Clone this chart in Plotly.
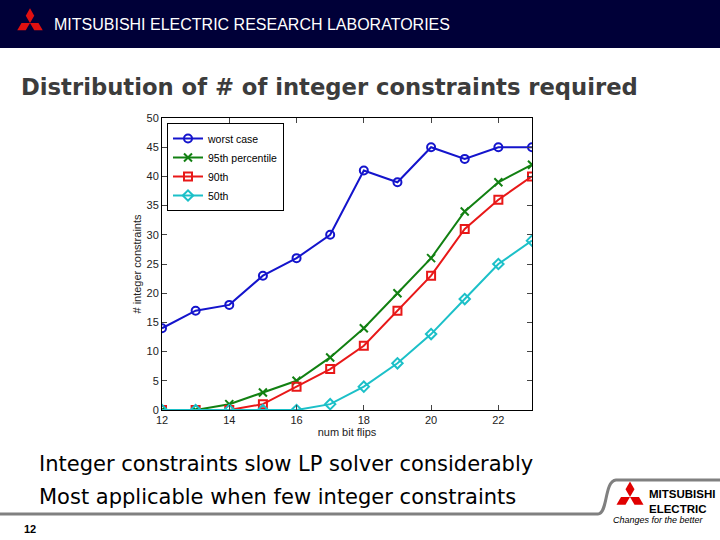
import plotly.graph_objects as go
import math

# ---- data ----
bit_flips = [12, 13, 14, 15, 16, 17, 18, 19, 20, 21, 22, 23]
worst_case = [14, 17, 18, 23, 26, 30, 41, 39, 45, 43, 45, 45]
pct95 = [0, 0, 1, 3, 5, 9, 14, 20, 26, 34, 39, 42]
pct90 = [0, 0, 0, 1, 4, 7, 11, 17, 23, 31, 36, 40]
pct50 = [0, 0, 0, 0, 0, 1, 4, 8, 13, 19, 25, 29]
x_ticks = [12, 14, 16, 18, 20, 22]
y_ticks = [0, 5, 10, 15, 20, 25, 30, 35, 40, 45, 50]

W, H = 720, 540
ML, MT = 162, 118
MR = W - 532
MB = H - 410
PW, PH = W - ML - MR, H - MT - MB


def px(x):
    return (x - ML) / PW


def py(y):
    return 1 - (y - MT) / PH


fig = go.Figure()
series = [
    ("worst case", worst_case, "#1414cc", "circle-open"),
    ("95th percentile", pct95, "#128012", "x-thin-open"),
    ("90th", pct90, "#e81818", "square-open"),
    ("50th", pct50, "#1cc0c8", "diamond-open"),
]
for name, ys, col, sym in series:
    fig.add_trace(go.Scatter(
        x=bit_flips, y=ys, name=name, mode="lines+markers",
        line=dict(color=col, width=2),
        marker=dict(symbol=sym, size=8, color=col, line=dict(color=col, width=2)),
    ))

axis_font = dict(family="Liberation Sans, Arial", size=11, color="#222")
fig.update_xaxes(range=[12, 23], tickvals=x_ticks, ticks="inside", ticklen=5,
                 showline=True, linecolor="#000", linewidth=1, mirror="ticks",
                 showgrid=False, zeroline=False, tickfont=axis_font,
                 title=dict(text="num bit flips", font=axis_font, standoff=0))
fig.update_yaxes(range=[0, 50], tickvals=y_ticks, ticks="inside", ticklen=5,
                 showline=True, linecolor="#000", linewidth=1, mirror="ticks",
                 showgrid=False, zeroline=False, tickfont=axis_font,
                 title=dict(text="# integer constraints", font=axis_font, standoff=2))

shapes = []
# header band
shapes.append(dict(type="rect", xref="paper", yref="paper", x0=px(0), x1=px(720),
                   y0=py(0), y1=py(48), fillcolor="#000038", line=dict(width=0), layer="below"))


def logo(cx, cy, s, color):
    # three rhombi meeting at centre (cx, cy) in screen pixel coords; s = side
    out = []
    for ang in (90, 210, 330):
        a = math.radians(ang)
        ux, uy = math.cos(a), -math.sin(a)
        vx, vy = -uy, ux
        L = s * math.sqrt(3)
        pts = [(cx, cy),
               (cx + ux * L / 2 + vx * s / 2, cy + uy * L / 2 + vy * s / 2),
               (cx + ux * L, cy + uy * L),
               (cx + ux * L / 2 - vx * s / 2, cy + uy * L / 2 - vy * s / 2)]
        path = "M " + " L ".join(f"{px(x):.5f},{py(y):.5f}" for x, y in pts) + " Z"
        out.append(dict(type="path", xref="paper", yref="paper", path=path,
                        fillcolor=color, line=dict(width=0)))
    return out


shapes += logo(30, 23, 8.5, "#e01010")
shapes += logo(630, 497, 9, "#e00000")

# bottom gray rule with curve
pts_path = (f"M {px(0):.5f},{py(514):.5f} L {px(598):.5f},{py(514):.5f} "
            f"C {px(608):.5f},{py(514):.5f} {px(604):.5f},{py(481):.5f} {px(616):.5f},{py(480):.5f} "
            f"L {px(720):.5f},{py(480):.5f}")
shapes.append(dict(type="path", xref="paper", yref="paper", path=pts_path,
                   line=dict(color="#808080", width=3)))

ann = []
ann.append(dict(text="MITSUBISHI ELECTRIC RESEARCH LABORATORIES", x=px(52), y=py(25),
                xref="paper", yref="paper", xanchor="left", yanchor="middle", showarrow=False,
                font=dict(family="Liberation Sans, Arial", size=16, color="#ffffff")))
ann.append(dict(text="<b>Distribution of # of integer constraints required</b>", x=px(19), y=py(87),
                xref="paper", yref="paper", xanchor="left", yanchor="middle", showarrow=False,
                font=dict(family="DejaVu Sans", size=22.7, color="#3c3c3c")))
ann.append(dict(text="Integer constraints slow LP solver considerably", x=px(37), y=py(464),
                xref="paper", yref="paper", xanchor="left", yanchor="middle", showarrow=False,
                font=dict(family="DejaVu Sans", size=21, color="#000")))
ann.append(dict(text="Most applicable when few integer constraints", x=px(37), y=py(497),
                xref="paper", yref="paper", xanchor="left", yanchor="middle", showarrow=False,
                font=dict(family="DejaVu Sans", size=21, color="#000")))
ann.append(dict(text="<b>12</b>", x=px(22), y=py(529),
                xref="paper", yref="paper", xanchor="left", yanchor="middle", showarrow=False,
                font=dict(family="Liberation Sans, Arial", size=11, color="#000")))
ann.append(dict(text="<b>MITSUBISHI<br>ELECTRIC</b>", x=px(647), y=py(501),
                xref="paper", yref="paper", xanchor="left", yanchor="middle", showarrow=False,
                align="left",
                font=dict(family="Liberation Sans, Arial", size=11.5, color="#000")))
ann.append(dict(text="<i>Changes for the better</i>", x=px(611), y=py(520),
                xref="paper", yref="paper", xanchor="left", yanchor="middle", showarrow=False,
                font=dict(family="Liberation Sans, Arial", size=9, color="#000")))

fig.update_layout(
    width=W, height=H, margin=dict(l=ML, r=MR, t=MT, b=MB),
    paper_bgcolor="#ffffff", plot_bgcolor="#ffffff",
    shapes=shapes, annotations=ann,
    legend=dict(x=5 / PW, y=1 - 5 / PH, xanchor="left", yanchor="top", bgcolor="#ffffff",
                bordercolor="#000", borderwidth=1,
                font=dict(family="Liberation Sans, Arial", size=10.5, color="#000"),
                tracegroupgap=0, itemwidth=30),
)

fig.write_html("out.html", config={"displayModeBar": False},
               post_script="document.body.style.margin='0';document.body.style.overflow='hidden';")
